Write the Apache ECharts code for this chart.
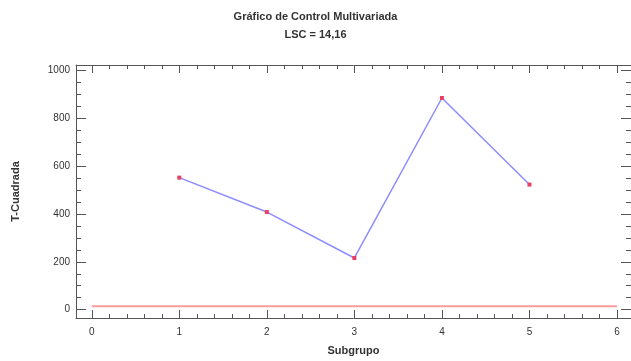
<!DOCTYPE html>
<html>
<head>
<meta charset="utf-8">
<script src="https://cdn.jsdelivr.net/npm/echarts@6/dist/echarts.min.js"></script>
<style>
  html, body { margin: 0; padding: 0; background: #fff; }
  #chart { width: 631px; height: 361px; }
</style>
</head>
<body>
<div id="chart"></div>
<script>
// Subgroup numbers and their T-squared statistic
const subgroups = [1, 2, 3, 4, 5];
const tSquared = [552, 408, 216, 885, 523];

// Upper control limit (LSC)
const ucl = 14.16;

// Axis tick positions
const xMajorTicks = [0, 1, 2, 3, 4, 5, 6];
const xMinorTicks = [0.2, 0.4, 0.6, 0.8, 1.2, 1.4, 1.6, 1.8, 2.2, 2.4, 2.6, 2.8,
                     3.2, 3.4, 3.6, 3.8, 4.2, 4.4, 4.6, 4.8, 5.2, 5.4, 5.6, 5.8];
const yMajorTicks = [0, 200, 400, 600, 800, 1000];
const yMinorTicks = [50, 100, 150, 250, 300, 350, 450, 500, 550, 650, 700, 750, 850, 900, 950];

const xRange = [-0.18, 6.16];
const yRange = [-35, 1023];

const axisColor = '#555';
const textColor = '#333';
const fontFamily = 'Liberation Sans, Arial, sans-serif';

function makeAxis(position, range, ticks, tickLen, withLabels, withLine, labelMargin) {
  return {
    type: 'value',
    position: position,
    min: range[0],
    max: range[1],
    splitLine: { show: false },
    axisLine: { show: withLine, onZero: false, lineStyle: { color: axisColor, width: 1 } },
    axisTick: {
      show: true,
      inside: true,
      length: tickLen,
      customValues: ticks,
      lineStyle: { color: axisColor, width: 1 }
    },
    axisLabel: withLabels ? {
      show: true,
      customValues: ticks,
      formatter: (v) => String(v),
      color: textColor,
      fontSize: 10,
      fontFamily: fontFamily,
      margin: labelMargin
    } : { show: false }
  };
}

const xAxes = [
  Object.assign(makeAxis('bottom', xRange, xMajorTicks, 8, true, true, 9), {
    name: 'Subgrupo',
    nameLocation: 'middle',
    nameGap: 27,
    nameTextStyle: { color: textColor, fontSize: 11, fontWeight: 'bold', fontFamily: fontFamily }
  }),
  makeAxis('bottom', xRange, xMinorTicks, 4, false, false),
  makeAxis('top', xRange, xMajorTicks, 8, false, true),
  makeAxis('top', xRange, xMinorTicks, 4, false, false)
];

const yAxes = [
  Object.assign(makeAxis('left', yRange, yMajorTicks, 10, true, true, 6), {
    name: 'T-Cuadrada',
    nameLocation: 'middle',
    nameRotate: 90,
    nameGap: 55,
    nameTextStyle: { color: textColor, fontSize: 11, fontWeight: 'bold', fontFamily: fontFamily }
  }),
  makeAxis('left', yRange, yMinorTicks, 5, false, false),
  makeAxis('right', yRange, yMajorTicks, 10, false, true),
  makeAxis('right', yRange, yMinorTicks, 5, false, false)
];

const uclLabel = 'LSC = ' + ucl.toFixed(2).replace('.', ',');

const chart = echarts.init(document.getElementById('chart'), null, { renderer: 'canvas' });
chart.setOption({
  animation: false,
  backgroundColor: '#fff',
  title: {
    text: 'Gráfico de Control Multivariada\n' + uclLabel,
    left: 'center',
    top: 3,
    padding: [5, 0, 5, 77],
    textStyle: {
      color: textColor,
      fontSize: 11,
      fontWeight: 'bold',
      fontFamily: fontFamily,
      lineHeight: 18
    }
  },
  grid: { left: 76, right: -1, top: 65, bottom: 40, containLabel: false },
  xAxis: xAxes,
  yAxis: yAxes,
  series: [
    {
      name: 'LSC',
      type: 'line',
      xAxisIndex: 0,
      yAxisIndex: 0,
      data: [[xMajorTicks[0], ucl], [xMajorTicks[xMajorTicks.length - 1], ucl]],
      showSymbol: false,
      symbol: 'none',
      lineStyle: { color: '#ff9c9c', width: 2 },
      silent: true,
      z: 2
    },
    {
      name: 'T-Cuadrada',
      type: 'line',
      xAxisIndex: 0,
      yAxisIndex: 0,
      data: subgroups.map((s, i) => [s, tSquared[i]]),
      symbol: 'rect',
      symbolSize: 4,
      itemStyle: { color: '#e8405e' },
      lineStyle: { color: '#8c8cff', width: 1.5 },
      z: 3
    }
  ]
});
</script>
</body>
</html>
